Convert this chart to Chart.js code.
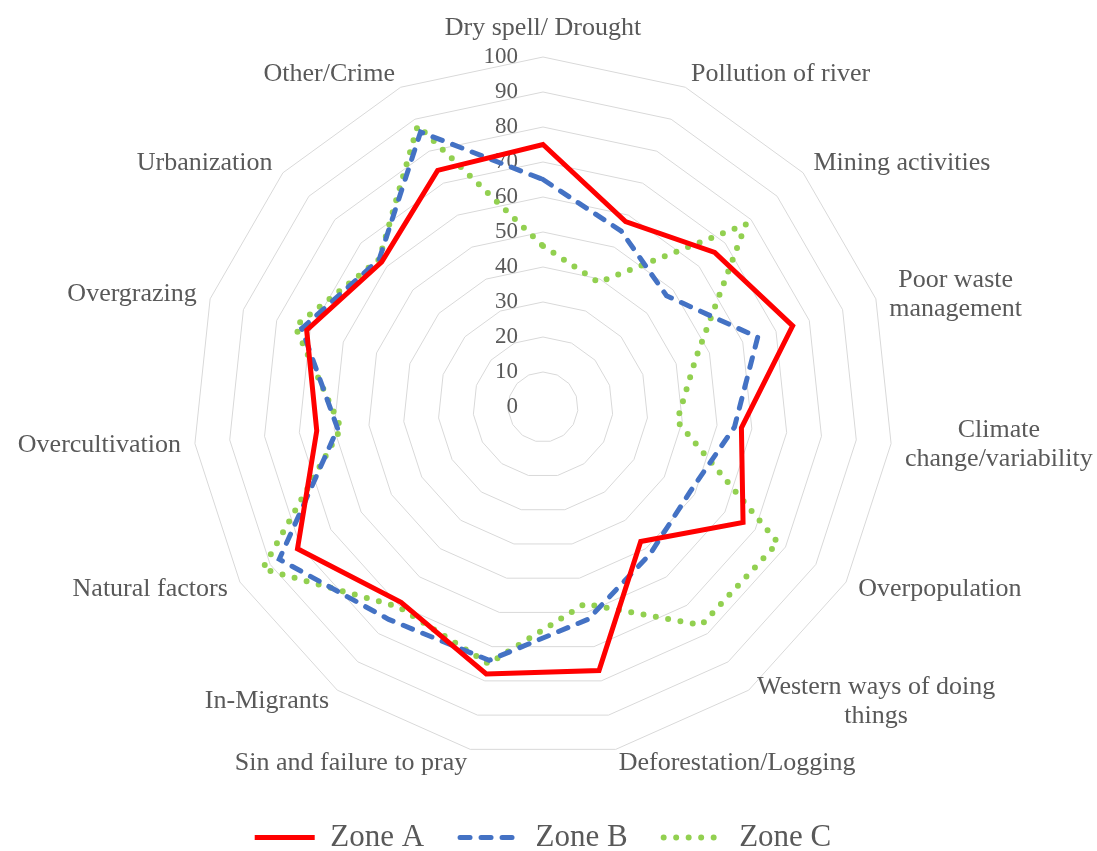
<!DOCTYPE html>
<html>
<head>
<meta charset="utf-8">
<title>Perceived causes - radar</title>
<script src="https://cdn.jsdelivr.net/npm/chart.js@4.4.1/dist/chart.umd.min.js"></script>
<style>
    html, body { margin: 0; padding: 0; background: #ffffff; }
    #wrap { width: 1097px; height: 851px; position: relative; }
</style>
</head>
<body>
<div id="wrap"><canvas id="chart-radar"></canvas></div>
<script>
// Categories, clockwise from the top
const categories = [
    'Dry spell/ Drought',
    'Pollution of river',
    'Mining activities',
    ['Poor waste', 'management'],
    ['Climate', 'change/variability'],
    'Overpopulation',
    ['Western ways of doing', 'things'],
    'Deforestation/Logging',
    'Sin and failure to pray',
    'In-Migrants',
    'Natural factors',
    'Overcultivation',
    'Overgrazing',
    'Urbanization',
    'Other/Crime'
];

const zoneA = [75, 58, 66, 75, 57, 66, 47.5, 77, 78, 69, 81, 65, 71, 62, 74];
const zoneB = [65, 55, 47.5, 64.5, 55, 48.5, 52, 62, 74, 75, 87, 59, 72.5, 63, 86];
const zoneC = [46, 39, 78, 46, 38.5, 77.5, 77, 57.5, 75, 70.5, 92.5, 58, 74.5, 63, 88];

const tickValues = [0, 10, 20, 30, 40, 50, 60, 70, 80, 90, 100];

const TEXT_COLOR = '#595959';
const SERIF = '"Liberation Serif", "Times New Roman", serif';

// Tick numbers sit just left of the vertical axis, point labels outside the rings
const radarText = {
    id: 'radarText',
    beforeDatasetsDraw(chart) {
        const scale = chart.scales.r;
        const ctx = chart.ctx;
        ctx.save();
        ctx.font = '23px ' + SERIF;
        ctx.fillStyle = TEXT_COLOR;
        ctx.textAlign = 'right';
        ctx.textBaseline = 'middle';
        tickValues.forEach(v => {
            const p = scale.getPointPositionForValue(0, v);
            ctx.fillText(String(v), scale.xCenter - 25, p.y);
        });
        ctx.restore();
    },
    afterDraw(chart) {
        const scale = chart.scales.r;
        const ctx = chart.ctx;
        const lineH = 29;
        ctx.save();
        ctx.font = '26px ' + SERIF;
        ctx.fillStyle = TEXT_COLOR;
        ctx.textAlign = 'center';
        ctx.textBaseline = 'middle';
        categories.forEach((label, i) => {
            const lines = Array.isArray(label) ? label : [label];
            const angle = i * 2 * Math.PI / categories.length;
            const sin = Math.sin(angle), cos = Math.cos(angle);
            const pos = scale.getPointPosition(i, scale.drawingArea + 14);
            const maxW = Math.max(...lines.map(l => ctx.measureText(l).width));
            const blockH = lines.length * lineH;
            let x = pos.x, y = pos.y;
            if (Math.abs(sin) < 0.01) {
                y -= Math.sign(cos) * blockH / 2;
            } else if (sin > 0) {
                x = Math.min(x, chart.width - 4 - maxW) + maxW / 2;
            } else {
                x = Math.max(x, 4 + maxW) - maxW / 2;
            }
            lines.forEach((l, k) => {
                ctx.fillText(l, x, y - (lines.length - 1) * lineH / 2 + k * lineH);
            });
        });
        ctx.restore();
    }
};

new Chart(document.getElementById('chart-radar').getContext('2d'), {
    type: 'radar',
    data: {
        labels: categories,
        datasets: [
            {
                label: 'Zone A',
                data: zoneA,
                borderColor: '#FF0000',
                borderWidth: 5,
                borderJoinStyle: 'miter',
                fill: false,
                pointRadius: 0
            },
            {
                label: 'Zone B',
                data: zoneB,
                borderColor: '#4472C4',
                borderWidth: 5,
                borderDash: [10, 11],
                borderCapStyle: 'round',
                fill: false,
                pointRadius: 0
            },
            {
                label: 'Zone C',
                data: zoneC,
                borderColor: '#92D050',
                borderWidth: 6,
                borderDash: [0, 12.5],
                borderCapStyle: 'round',
                fill: false,
                pointRadius: 0
            }
        ]
    },
    options: {
        responsive: true,
        maintainAspectRatio: false,
        animation: false,
        layout: { padding: { left: 193, right: 204, top: 28, bottom: 0 } },
        scales: {
            r: {
                min: 0,
                max: 100,
                ticks: { display: false, stepSize: 10 },
                grid: { color: '#D9D9D9', lineWidth: 1 },
                angleLines: { display: false },
                pointLabels: { display: false }
            }
        },
        plugins: {
            tooltip: { enabled: false },
            legend: {
                position: 'bottom',
                maxHeight: 65,
                labels: {
                    usePointStyle: true,
                    pointStyleWidth: 60,
                    padding: 36,
                    color: TEXT_COLOR,
                    font: { family: SERIF, size: 31 },
                    generateLabels(chart) {
                        return chart.data.datasets.map((ds, i) => ({
                            text: ds.label,
                            strokeStyle: ds.borderColor,
                            fillStyle: ds.borderColor,
                            lineWidth: ds.borderWidth,
                            lineDash: ds.borderDash || [],
                            lineCap: ds.borderCapStyle || 'butt',
                            pointStyle: 'line',
                            fontColor: TEXT_COLOR,
                            datasetIndex: i,
                            hidden: !chart.isDatasetVisible(i)
                        }));
                    }
                }
            }
        }
    },
    plugins: [radarText]
});
</script>
</body>
</html>
